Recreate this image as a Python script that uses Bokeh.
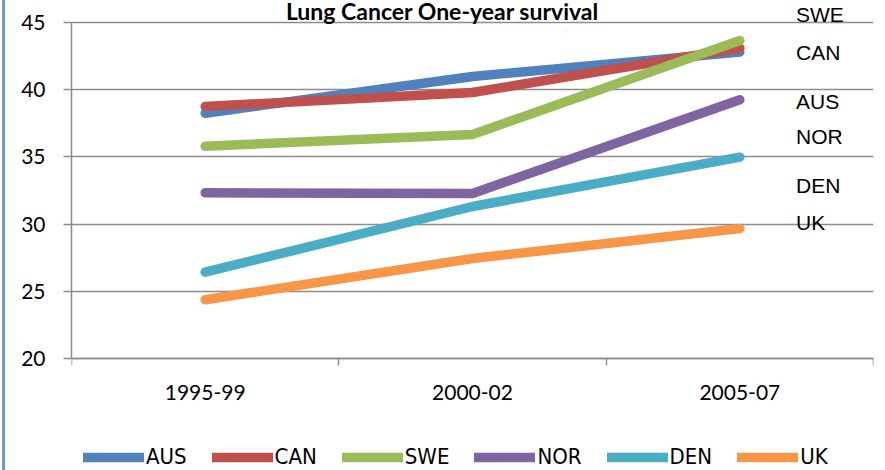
from bokeh.plotting import figure
from bokeh.models import (Range1d, FixedTicker, Legend, LegendItem, Label)
from bokeh.embed import file_html
from bokeh.resources import INLINE

# ---- data ----
periods = ["1995-99", "2000-02", "2005-07"]
AUS = [38.25, 40.98, 42.8]
CAN = [38.75, 39.79, 43.1]
SWE = [35.8, 36.67, 43.66]
NOR = [32.33, 32.28, 39.25]
DEN = [26.42, 31.31, 34.98]
UK = [24.37, 27.44, 29.67]
series_names = ["AUS", "CAN", "SWE", "NOR", "DEN", "UK"]
series_values = [AUS, CAN, SWE, NOR, DEN, UK]
y_ticks = [20, 25, 30, 35, 40, 45]
title_text = "Lung Cancer One-year survival"
side_labels = ["SWE", "CAN", "AUS", "NOR", "DEN", "UK"]
side_label_levels = [45.6, 42.77, 39.12, 36.52, 32.87, 30.12]

# ---- styles ----
colors = ["#4F81BD", "#C0504D", "#9BBB59", "#8064A2", "#4BACC6", "#F79646"]
GRAY = "#8C8C8C"
TICK_FONT = "Lato"

# category slots: each period occupies one unit, its centre at i + 0.5
n = len(periods)
centers = [i + 0.5 for i in range(n)]
bounds = list(range(n + 1))
y_min, y_max = y_ticks[0], y_ticks[-1]

# the frame covers the full canvas height so that the title, side labels and
# legend (which sit outside the value axis span) are not clipped
p = figure(x_range=Range1d(0, n), y_range=Range1d(11.667, 47.232),
           width=893, height=478, output_backend="svg", toolbar_location=None,
           min_border_left=79, min_border_right=12, min_border_top=0,
           min_border_bottom=0)
p.border_fill_color = None
p.background_fill_color = "white"
p.outline_line_color = None
p.styles = {"transform": "translate(-8px, -8px)",
            "background": "linear-gradient(to right, #ffffff 10px, #6B9BD1 10px, #6B9BD1 13px, #ffffff 13px)"}

# y axis
p.yaxis.ticker = FixedTicker(ticks=y_ticks)
p.yaxis.bounds = (y_min, y_max)
p.yaxis.axis_line_color = GRAY
p.yaxis.axis_line_width = 1.5
p.yaxis.major_tick_line_color = GRAY
p.yaxis.major_tick_line_width = 1.5
p.yaxis.major_tick_out = 8
p.yaxis.major_tick_in = 0
p.yaxis.minor_tick_line_color = None
p.yaxis.major_label_text_font = TICK_FONT
p.yaxis.major_label_text_font_size = "21px"
p.yaxis.major_label_text_color = "black"
p.yaxis.major_label_standoff = 18
p.ygrid.ticker = FixedTicker(ticks=y_ticks)
p.ygrid.grid_line_color = GRAY
p.ygrid.grid_line_width = 1.5
p.xgrid.visible = False

# x axis: sits at the bottom of the value span; labels at category centres,
# tick marks at category boundaries
p.xaxis.fixed_location = y_min
p.xaxis.ticker = FixedTicker(ticks=centers, minor_ticks=bounds)
p.xaxis.major_label_overrides = {c: lab for c, lab in zip(centers, periods)}
p.xaxis.axis_line_color = GRAY
p.xaxis.axis_line_width = 1.5
p.xaxis.major_tick_line_color = None
p.xaxis.major_tick_out = 0
p.xaxis.major_tick_in = 0
p.xaxis.minor_tick_line_color = GRAY
p.xaxis.minor_tick_line_width = 1.5
p.xaxis.minor_tick_out = 7
p.xaxis.minor_tick_in = 0
p.xaxis.major_label_standoff = 19
p.xaxis.major_label_text_font = TICK_FONT
p.xaxis.major_label_text_font_size = "21px"
p.xaxis.major_label_text_color = "black"

# series
items = []
for name, vals, c in zip(series_names, series_values, colors):
    r = p.line(x=centers, y=vals, line_color=c, line_width=9.5,
               line_cap="round", line_join="round")
    items.append(LegendItem(label=name, renderers=[r]))

legend = Legend(items=items, orientation="horizontal", location=(12, 1),
                glyph_width=61, glyph_height=22, label_standoff=2, spacing=25,
                label_text_font="DejaVu Sans Condensed", label_text_font_size="22px",
                label_text_color="black",
                border_line_color=None, background_fill_alpha=0,
                padding=0, margin=0)
p.add_layout(legend, "center")

# side labels
for txt, lvl in zip(side_labels, side_label_levels):
    p.add_layout(Label(x=2.71, y=lvl, text=txt, text_align="left",
                       text_baseline="middle", text_font="Liberation Sans",
                       text_font_size="21px", text_color="black"))

# title
p.add_layout(Label(x=1.388, y=45.85, text=title_text, text_align="center",
                   text_baseline="alphabetic", text_font="Lato",
                   text_font_style="bold", text_font_size="23px", text_color="black"))

open("out.html", "w").write(file_html(p, INLINE))
